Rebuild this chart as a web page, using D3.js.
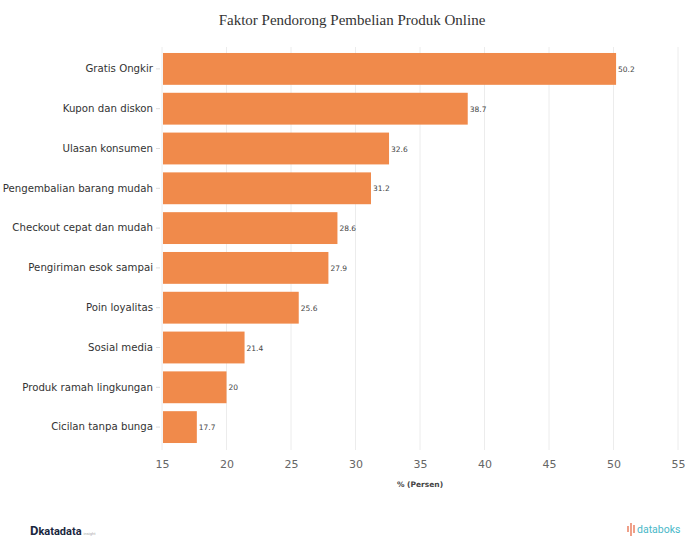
<!DOCTYPE html>
<html><head><meta charset="utf-8">
<script src="https://cdn.jsdelivr.net/npm/d3@7"></script>
<style>html,body{margin:0;padding:0;background:#fff;}svg{display:block;}</style>
</head><body>
<script>
const title = "Faktor Pendorong Pembelian Produk Online";
const categories = ["Gratis Ongkir","Kupon dan diskon","Ulasan konsumen","Pengembalian barang mudah","Checkout cepat dan mudah","Pengiriman esok sampai","Poin loyalitas","Sosial media","Produk ramah lingkungan","Cicilan tanpa bunga"];
const values = [50.2,38.7,32.6,31.2,28.6,27.9,25.6,21.4,20,17.7];
const valueLabels = ["50.2","38.7","32.6","31.2","28.6","27.9","25.6","21.4","20","17.7"];
const xTicks = [15,20,25,30,35,40,45,50,55];
const xTitle = "% (Persen)";

const W = 690, H = 539;
const svg = d3.select("body").append("svg").attr("width", W).attr("height", H);

const x = d3.scaleLinear().domain([15,55]).range([162,678]);
const y = d3.scaleBand().domain(categories).range([49,447]).paddingInner(0.2).paddingOuter(0.1);

svg.append("text").attr("x",352).attr("y",25).attr("text-anchor","middle")
  .attr("font-family","Liberation Serif, serif").attr("font-size",15).attr("fill","#333").text(title);

// gridlines
svg.append("g").selectAll("line").data(xTicks).join("line")
  .attr("x1",d=>x(d)).attr("x2",d=>x(d)).attr("y1",47).attr("y2",450)
  .attr("stroke","#ececec").attr("stroke-width",1);

// bars
svg.append("g").selectAll("rect").data(values).join("rect")
  .attr("x",x(15)+1).attr("y",(d,i)=>y(categories[i]))
  .attr("width",d=>x(d)-x(15)-1).attr("height",y.bandwidth())
  .attr("fill","#F08A4B");

// value labels
svg.append("g").selectAll("text").data(values).join("text")
  .attr("x",d=>x(d)+2).attr("y",(d,i)=>y(categories[i])+y.bandwidth()/2+3)
  .attr("font-family","DejaVu Sans, sans-serif").attr("font-size",7.5).attr("fill","#444")
  .text((d,i)=>valueLabels[i]);

// y axis
const yAxis = d3.axisLeft(y).tickSize(4).tickPadding(3);
const gy = svg.append("g").attr("transform",`translate(${x(15)-2},0)`).call(yAxis);
gy.select(".domain").remove();
gy.selectAll(".tick line").attr("stroke","#ddd");
gy.selectAll(".tick text").attr("font-family","DejaVu Sans, sans-serif").attr("font-size",10.2).attr("fill","#333");

// x axis
const xAxis = d3.axisBottom(x).tickValues(xTicks).tickSize(0).tickPadding(5);
const gx = svg.append("g").attr("transform","translate(0,455)").call(xAxis);
gx.select(".domain").remove();
gx.selectAll(".tick text").attr("font-family","DejaVu Sans, sans-serif").attr("font-size",11).attr("fill","#666");

svg.append("text").attr("x",420).attr("y",487).attr("text-anchor","middle")
  .attr("font-family","DejaVu Sans, sans-serif").attr("font-size",7.5).attr("font-weight","bold").attr("fill","#444").text(xTitle);

// footer
const f1 = svg.append("text").attr("x",30).attr("y",535).attr("font-family","Roboto, sans-serif").attr("fill","#1a2740");
f1.append("tspan").attr("font-size",13).attr("font-weight","bold").text("D");
f1.append("tspan").attr("font-size",11).attr("font-weight","bold").text("katadata");
f1.append("tspan").attr("font-size",4).attr("fill","#aaa").attr("dx",2).text("insight");

const ic = svg.append("g").attr("stroke","#e5603a").attr("stroke-width",1.2);
[[628,526,532],[631,523,536],[634,525,533]].forEach(d=>ic.append("line").attr("x1",d[0]).attr("x2",d[0]).attr("y1",d[1]).attr("y2",d[2]));
svg.append("text").attr("x",637).attr("y",533).attr("font-family","Roboto, sans-serif").attr("font-size",10.5).attr("fill","#4ab8c8").text("databoks");
</script>
</body></html>
